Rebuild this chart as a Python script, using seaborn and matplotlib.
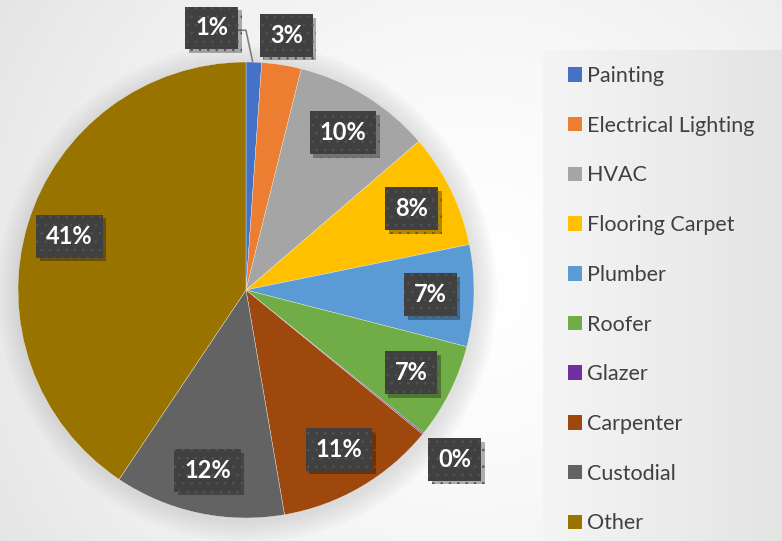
import numpy as np
import matplotlib
matplotlib.use("Agg")
import matplotlib.pyplot as plt
import matplotlib.patheffects as pe
from matplotlib.patches import Rectangle, Circle
import seaborn as sns

categories = ["Painting", "Electrical Lighting", "HVAC", "Flooring Carpet", "Plumber",
              "Roofer", "Glazer", "Carpenter", "Custodial", "Other"]
shares = [1.1, 2.8, 9.8, 8.1, 7.2, 6.8, 0.1, 11.4, 12.1, 40.6]
colors = ["#4472C4", "#ED7D31", "#A5A5A5", "#FFC000", "#5B9BD5",
          "#70AD47", "#7030A0", "#9E480E", "#636363", "#997300"]

sns.set_style("white")
plt.rcParams['font.family'] = ['Lato', 'DejaVu Sans']
plt.rcParams['hatch.linewidth'] = 0.6

W, H = 782, 541
fig = plt.figure(figsize=(W / 100, H / 100), dpi=100)

# background gradient
bg = fig.add_axes([0, 0, 1, 1], zorder=-10)
yy, xx = np.mgrid[0:H, 0:W]
d = np.sqrt((xx - 470) ** 2 + (yy - 280) ** 2)
val = 1 - 0.10 * np.clip(d / 540, 0, 1) ** 1.5
bg.imshow(np.dstack([val] * 3), extent=[0, W, H, 0], aspect='auto')
# legend panel gradient
lx0, ly0 = 543, 50
gx = np.linspace(0, 1, 200)
panel = 0.96 - 0.065 * gx[None, :] + 0.0 * gx[:, None]
bg.imshow(np.dstack([panel] * 3), extent=[lx0, W, H, ly0], aspect='auto')
bg.set_xlim(0, W)
bg.set_ylim(H, 0)
bg.axis('off')

# pie axes
cx, cy, R = 246, 290, 228
half = 1.25 * R
ax = fig.add_axes([(cx - half) / W, (H - cy - half) / H, 2 * half / W, 2 * half / H])

# soft shadow behind pie
for i in range(8):
    ax.add_patch(Circle((0.005, -0.012), 1.0 + 0.012 * (i + 1), color='#909090',
                        alpha=0.03, lw=0, zorder=0))

wedges, _ = ax.pie(shares, colors=colors, startangle=90, counterclock=False,
                   radius=1.0, wedgeprops=dict(linewidth=0.25, edgecolor='#f0f0f0'))
for w in wedges:
    w.set_zorder(2)
ax.set_xlim(-1.25, 1.25)
ax.set_ylim(-1.25, 1.25)
ax.axis('off')

total = sum(shares)
cum = 0.0
for i, v in enumerate(shares):
    mid = cum + v / 2
    cum += v
    ang = np.deg2rad(90 - 360 * mid / total)
    if v < 4:
        r = 1.15 if v >= 0.5 else 1.18
    else:
        r = 0.81
    x, y = r * np.cos(ang), r * np.sin(ang)
    dx = 0.0
    if i == 0:
        dx = -0.19
    if i == 1:
        r = 1.13
        x, y = r * np.cos(ang), r * np.sin(ang)
    pct = int(np.floor(v + 0.5))
    t = ax.text(x + dx, y, f"{pct}%", ha='center', va='center', color='white',
                fontsize=17, fontweight='bold', zorder=6,
                bbox=dict(boxstyle='square,pad=0.42', facecolor='#404040',
                          edgecolor='#545454', hatch='..', linewidth=0))
    t.get_bbox_patch().set_path_effects([
        pe.SimplePatchShadow(offset=(2.5, -2.5), shadow_rgbFace='#000000', alpha=0.3),
        pe.Normal()])
    if i == 0:
        ex, ey = np.cos(ang), np.sin(ang)
        x0 = x + dx + 0.115
        ax.plot([x0, x0 + 0.035, ex - 0.005], [y - 0.01, y - 0.01, ey + 0.0],
                color='#7f7f7f', lw=1.2, zorder=5, solid_capstyle='butt')

handles = [Rectangle((0, 0), 1, 1, facecolor=c, edgecolor='none') for c in colors]
leg = fig.legend(handles, categories, loc='upper left',
                 bbox_to_anchor=(568 / W, 1 - 66 / H), frameon=False,
                 fontsize=15.5, labelcolor='#404040', handlelength=0.66,
                 handleheight=0.66, handletextpad=0.2, labelspacing=1.38,
                 borderpad=0, borderaxespad=0)

fig.savefig("out.png", dpi=100)
